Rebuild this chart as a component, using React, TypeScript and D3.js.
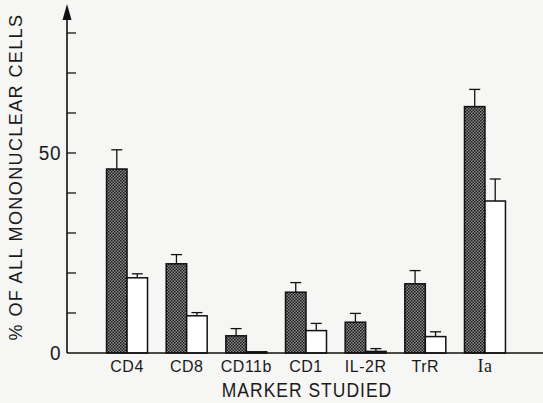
import * as d3 from 'd3';
import { useEffect, useRef } from 'react';

const markers = ['CD4', 'CD8', 'CD11b', 'CD1', 'IL-2R', 'TrR', 'Ia'];
const darkValues = [46, 22.3, 4.3, 15.2, 7.7, 17.3, 61.6];
const darkErrors = [4.8, 2.3, 1.8, 2.4, 2.2, 3.3, 4.3];
const whiteValues = [18.8, 9.3, 0.3, 5.6, 0.4, 4.1, 38];
const whiteErrors = [1, 0.8, 0, 1.8, 0.7, 1.2, 5.5];
const tickValues = [10, 20, 30, 40, 50, 60, 70, 80];
const tickLabels = [0, 50];

const width = 543;
const height = 403;
const font = 'Helvetica, Arial, "Liberation Sans", sans-serif';

export default function App() {
  const svgRef = useRef(null);

  useEffect(() => {
    const svg = d3.select(svgRef.current);
    svg.selectAll('*').remove();

    const xScale = d3
      .scaleBand()
      .domain(markers)
      .range([97.2, 514.8])
      .paddingInner(0.313)
      .paddingOuter(0.1565);

    const subScale = d3
      .scaleBand()
      .domain(['dark', 'white'])
      .range([0, xScale.bandwidth()]);

    const yScale = d3.scaleLinear().domain([0, 80]).range([353, 33]);

    svg
      .append('rect')
      .attr('width', width)
      .attr('height', height)
      .attr('fill', '#f6f6f4');

    // checker pattern for the dark bars
    const pat = svg
      .append('defs')
      .append('pattern')
      .attr('id', 'checker')
      .attr('patternUnits', 'userSpaceOnUse')
      .attr('width', 3)
      .attr('height', 3);
    pat.append('rect').attr('width', 3).attr('height', 3).attr('fill', '#8a8a8a');
    pat.append('rect').attr('width', 1.5).attr('height', 1.5).attr('fill', '#1a1a1a');
    pat
      .append('rect')
      .attr('x', 1.5)
      .attr('y', 1.5)
      .attr('width', 1.5)
      .attr('height', 1.5)
      .attr('fill', '#1a1a1a');

    const series = [
      { key: 'dark', values: darkValues, errors: darkErrors, fill: 'url(#checker)' },
      { key: 'white', values: whiteValues, errors: whiteErrors, fill: '#ffffff' },
    ];

    series.forEach((s) => {
      const g = svg.append('g');
      markers.forEach((m, i) => {
        const x = (xScale(m) as number) + (subScale(s.key) as number);
        const w = subScale.bandwidth();
        const v = s.values[i];
        const e = s.errors[i];
        // error bar (upper only)
        if (e > 0) {
          const cx = x + w / 2;
          g.append('line')
            .attr('x1', cx)
            .attr('x2', cx)
            .attr('y1', yScale(v))
            .attr('y2', yScale(v + e))
            .attr('stroke', '#111')
            .attr('stroke-width', 1.3);
          g.append('line')
            .attr('x1', cx - 5.5)
            .attr('x2', cx + 5.5)
            .attr('y1', yScale(v + e))
            .attr('y2', yScale(v + e))
            .attr('stroke', '#111')
            .attr('stroke-width', 1.3);
        }
        g.append('rect')
          .attr('x', x)
          .attr('y', yScale(v))
          .attr('width', w)
          .attr('height', yScale(0) - yScale(v))
          .attr('fill', s.fill)
          .attr('stroke', '#111')
          .attr('stroke-width', 1.5);
      });
    });

    // axes
    svg
      .append('line')
      .attr('x1', 67)
      .attr('x2', width)
      .attr('y1', yScale(0))
      .attr('y2', yScale(0))
      .attr('stroke', '#111')
      .attr('stroke-width', 1.6);
    svg
      .append('line')
      .attr('x1', 67)
      .attr('x2', 67)
      .attr('y1', yScale(0))
      .attr('y2', 14)
      .attr('stroke', '#111')
      .attr('stroke-width', 1.6);
    svg
      .append('path')
      .attr('d', 'M67,4 L71.5,20 L62.5,20 Z')
      .attr('fill', '#111');

    svg
      .append('g')
      .selectAll('line')
      .data(tickValues)
      .enter()
      .append('line')
      .attr('x1', 67)
      .attr('x2', 76)
      .attr('y1', (d) => yScale(d))
      .attr('y2', (d) => yScale(d))
      .attr('stroke', '#111')
      .attr('stroke-width', 1.3);

    svg
      .append('g')
      .selectAll('text')
      .data(tickLabels)
      .enter()
      .append('text')
      .attr('text-anchor', 'end')
      .attr('transform', (d) => 'translate(61,' + (yScale(d) + 6.5) + ')scale(1,1.1)')
      .style('font-family', font)
      .style('font-size', '19px')
      .style('letter-spacing', '0.5px')
      .attr('fill', '#1a1a1a')
      .text((d) => d);

    // category labels
    svg
      .append('g')
      .selectAll('text')
      .data(markers)
      .enter()
      .append('text')
      .attr(
        'transform',
        (d) => 'translate(' + ((xScale(d) as number) + xScale.bandwidth() / 2) + ',372)scale(1,1.05)'
      )
      .attr('text-anchor', 'middle')
      .style('font-family', (d) => (d === 'Ia' ? 'Times, "Liberation Serif", serif' : font))
      .style('font-size', (d) => (d === 'Ia' ? '18px' : '16px'))
      .style('letter-spacing', '0.5px')
      .attr('fill', '#1a1a1a')
      .text((d) => d);

    // X label
    svg
      .append('text')
      .attr('text-anchor', 'middle')
      .attr('transform', 'translate(307,397)scale(1,1.2)')
      .style('font-family', font)
      .style('font-size', '17.5px')
      .style('letter-spacing', '1px')
      .attr('fill', '#1a1a1a')
      .text('MARKER STUDIED');

    // Y label
    svg
      .append('text')
      .attr('text-anchor', 'middle')
      .attr('transform', 'translate(22,177)rotate(-90)')
      .style('font-family', font)
      .style('font-size', '18px')
      .style('letter-spacing', '1.4px')
      .attr('fill', '#1a1a1a')
      .text('% OF ALL MONONUCLEAR CELLS');
  }, []);

  return (
    <svg
      ref={svgRef}
      width={width}
      height={height}
      style={{ position: 'absolute', left: 0, top: 0, display: 'block' }}
    ></svg>
  );
}
